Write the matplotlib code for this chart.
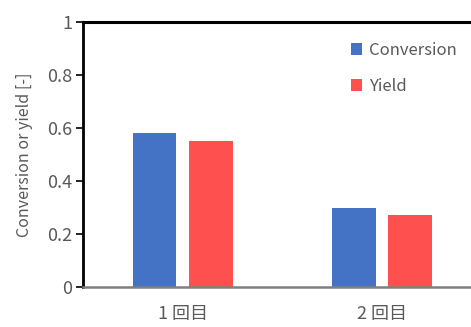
import numpy as np
from matplotlib import pyplot as plt

plt.rcParams['font.family'] = ['Noto Sans CJK JP', 'DejaVu Sans']

runs = ['1 回目', '2 回目']
conversion = [0.58, 0.30]
yield_ = [0.55, 0.27]

text_color = '#595959'

fig = plt.figure(figsize=(4.71, 3.27), dpi=100)
# axes runs a bit past the right edge of the figure
ax = fig.add_axes([83 / 471, 40 / 327, 398.5 / 471, 265 / 327])

x = np.arange(len(runs))
width = 0.22
offset = 0.141
ax.bar(x - offset, conversion, width, color='#4472C4', label='Conversion')
ax.bar(x + offset, yield_, width, color='#FF5050', label='Yield')

ax.set_xlim(-0.5, len(runs) - 0.5)
ax.set_ylim(0, 1)
ax.set_yticks([0, 0.2, 0.4, 0.6, 0.8, 1])
ax.set_yticklabels(['0', '0.2', '0.4', '0.6', '0.8', '1'])
ax.set_xticks(x)
ax.set_xticklabels(runs)

ax.tick_params(axis='y', direction='out', length=5, width=1.2, color='black',
               labelsize=13, labelcolor=text_color, pad=3)
ax.tick_params(axis='x', length=0, labelsize=13, labelcolor=text_color, pad=13)

ax.spines['left'].set_linewidth(2)
ax.spines['left'].set_color('black')
ax.spines['top'].set_linewidth(2.2)
ax.spines['top'].set_color('black')
ax.spines['bottom'].set_linewidth(1.8)
ax.spines['bottom'].set_color('#7f7f7f')
ax.spines['right'].set_visible(False)

ax.set_ylabel('Conversion or yield [-]', fontsize=11.5, color=text_color, labelpad=10)

leg = ax.legend(loc='upper left', bbox_to_anchor=(0.655, 0.95), frameon=False,
                fontsize=12, handlelength=0.7, handleheight=0.7,
                handletextpad=0.4, labelspacing=1.15, borderaxespad=0)
for t in leg.get_texts():
    t.set_color(text_color)

fig.savefig('out.png', dpi=100)
